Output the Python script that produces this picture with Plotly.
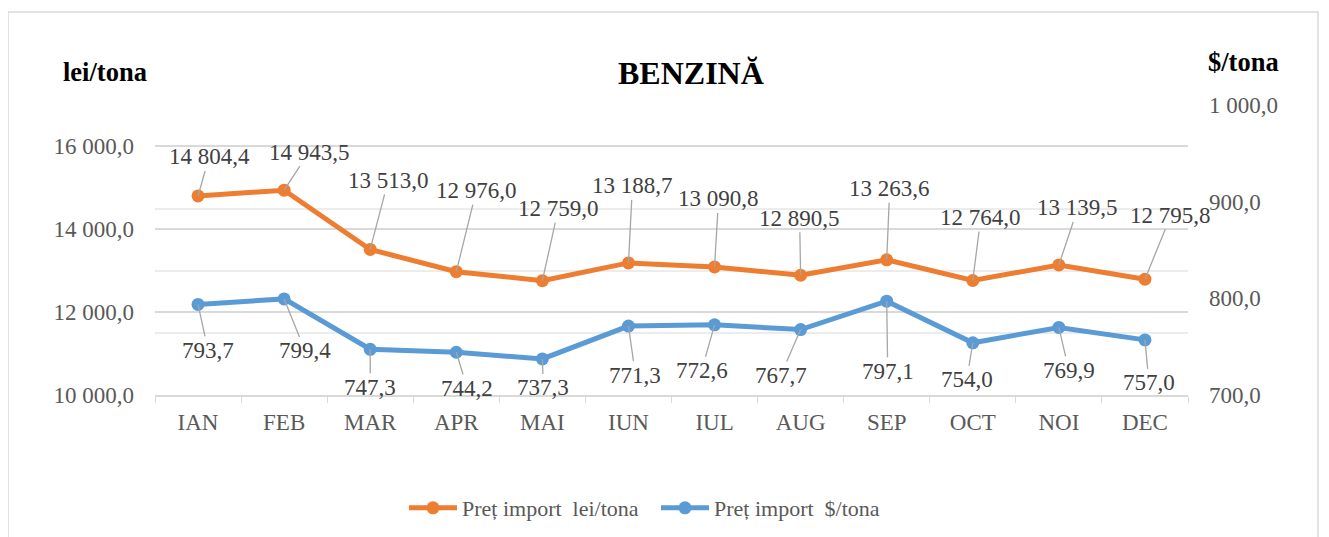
import plotly.graph_objects as go

months = ["IAN", "FEB", "MAR", "APR", "MAI", "IUN", "IUL", "AUG", "SEP", "OCT", "NOI", "DEC"]
lei_values = [14804.4, 14943.5, 13513.0, 12976.0, 12759.0, 13188.7, 13090.8, 12890.5, 13263.6, 12764.0, 13139.5, 12795.8]
usd_values = [793.7, 799.4, 747.3, 744.2, 737.3, 771.3, 772.6, 767.7, 797.1, 754.0, 769.9, 757.0]
lei_name = "Preț import  lei/tona"
usd_name = "Preț import  $/tona"
title_text = "BENZINĂ"
left_title = "lei/tona"
right_title = "$/tona"

# label offsets (pixels) for the callouts
lei_offsets = [(11, -39), (25, -38), (18, -69), (20, -81), (16, -72), (4, -77),
               (4, -68), (-1, -57), (3, -71), (8, -63), (19, -57), (26, -64)]
usd_offsets = [(10, 46), (21, 52), (0, 38), (11, 36), (1, 29), (7, 49),
               (-13, 46), (-20, 46), (1, 70), (-6, 37), (10, 43), (4, 43)]

FONT = "Liberation Serif, Times New Roman, serif"
GREY = "#595959"
ORANGE = "#ED7D31"
BLUE = "#5B9BD5"


def fmt(v):
    s = f"{v:,.1f}"
    return s.replace(",", "\u00a0").replace(".", ",")


OFF = 8  # page body margin
W, H = 1329, 537
L, R, T, B = 155 - OFF, 141 + OFF, 105 - OFF, 142 + OFF
PW, PH = W - L - R, H - T - B


def px_x(x):
    return (x - OFF - L) / PW


def px_y(y):
    return (H - B - (y - OFF)) / PH


fig = go.Figure()
fig.add_trace(go.Scatter(x=months, y=lei_values, name=lei_name, mode="lines+markers",
                         line=dict(color=ORANGE, width=5), marker=dict(size=13, color=ORANGE),
                         yaxis="y"))
fig.add_trace(go.Scatter(x=months, y=usd_values, name=usd_name, mode="lines+markers",
                         line=dict(color=BLUE, width=5), marker=dict(size=13, color=BLUE),
                         yaxis="y2"))

LBL = 23
annotations = []
for m, v, (ax, ay) in zip(months, lei_values, lei_offsets):
    annotations.append(dict(x=m, y=v, xref="x", yref="y", text=fmt(v), showarrow=True,
                            arrowhead=0, arrowwidth=1.3, arrowcolor="#a6a6a6", ax=ax, ay=ay,
                            font=dict(family=FONT, size=LBL, color="#404040")))
for m, v, (ax, ay) in zip(months, usd_values, usd_offsets):
    annotations.append(dict(x=m, y=v, xref="x", yref="y2", text=fmt(v), showarrow=True,
                            arrowhead=0, arrowwidth=1.3, arrowcolor="#a6a6a6", ax=ax, ay=ay,
                            font=dict(family=FONT, size=LBL, color="#404040")))

for txt, cx, cy, sz in [(title_text, 691, 73, 32), (left_title, 105, 72, 26.5), (right_title, 1243, 62, 26.5)]:
    annotations.append(dict(x=px_x(cx), y=px_y(cy), xref="paper", yref="paper", text=f"<b>{txt}</b>",
                            xanchor="center", yanchor="middle", showarrow=False,
                            font=dict(family=FONT, size=sz, color="#000000")))

fig.update_layout(
    width=W, height=H, autosize=False,
    margin=dict(l=L, r=R, t=T, b=B, pad=0),
    paper_bgcolor="white", plot_bgcolor="white",
    separators=",\u00a0",
    font=dict(family=FONT, size=LBL, color=GREY),
    showlegend=True,
    legend=dict(orientation="h", x=px_x(656), y=px_y(508), xanchor="center", yanchor="middle",
                font=dict(family=FONT, size=22, color=GREY), itemwidth=48, tracegroupgap=0,
                entrywidth=189, entrywidthmode="pixels"),
    annotations=annotations,
    xaxis=dict(type="category", showgrid=False, showline=True, linecolor="#d9d9d9", linewidth=1.5,
               ticks="outside", ticklen=6, tickcolor="#d9d9d9", tickson="boundaries",
               tickfont=dict(family=FONT, size=LBL, color=GREY), ticklabelstandoff=6,
               range=[-0.5, 11.5]),
    yaxis=dict(range=[10000, 17000], tickvals=[10000, 12000, 14000, 16000], tickformat=",.1f",
               showgrid=True, gridcolor="#d9d9d9", gridwidth=1.5, zeroline=False, showline=False,
               tickfont=dict(family=FONT, size=LBL, color=GREY), ticklabelstandoff=20,
               minor=dict(tickvals=[11500, 13000, 14500], showgrid=True, gridcolor="#ececec", gridwidth=1.5)),
    yaxis2=dict(range=[700, 1000], tickvals=[700, 800, 900, 1000], tickformat=",.1f",
                overlaying="y", side="right", showgrid=False, zeroline=False, showline=False,
                tickfont=dict(family=FONT, size=LBL, color=GREY), ticklabelstandoff=20),
    shapes=[dict(type="rect", xref="paper", yref="paper", x0=px_x(8), x1=px_x(1318), y0=px_y(560), y1=px_y(12),
                 line=dict(color="#d9d9d9", width=1.5), fillcolor="rgba(0,0,0,0)", layer="below")],
)

fig.write_html("out.html")
